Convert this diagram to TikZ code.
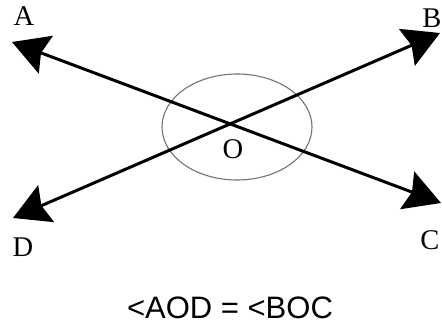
\documentclass[tikz,border=0pt]{standalone}
\usepackage{fontspec}
\setmainfont{Liberation Serif}
\newfontfamily\labsans{Liberation Sans}
\usetikzlibrary{arrows.meta}
\tikzset{
  ray/.style={line width=3pt, {Stealth[length=36pt,width=40pt,inset=5pt]}-{Stealth[length=36pt,width=40pt,inset=5pt]}},
  ptlabel/.style={inner sep=0pt, font=\fontsize{28.5}{32}\selectfont},
  ring/.style={draw=black!55, line width=1.1pt},
}
\begin{document}
\begin{tikzpicture}[x=1pt,y=-1pt]
\useasboundingbox (0,0) rectangle (442,324);
\fill[white] (0,0) rectangle (442,324);
\coordinate (A) at (12,42);
\coordinate (C) at (441,203);
\coordinate (B) at (440,33);
\coordinate (D) at (13,218);
\coordinate (Oc) at (237,127);
\draw[ring] (Oc) ellipse [x radius=75, y radius=53];
\draw[ray] (A) -- (C);
\draw[ray] (D) -- (B);
\node[ptlabel] (lA) at (24,16) {A};
\node[ptlabel] (lB) at (432,18) {B};
\node[ptlabel] (lC) at (430,240) {C};
\node[ptlabel] (lD) at (23,247) {D};
\node[ptlabel] (lO) at (233,149) {O};
\node[inner sep=0pt, font=\labsans\fontsize{31}{35}\selectfont] (eq) at (230,308) {<AOD = <BOC};
\end{tikzpicture}
\end{document}
